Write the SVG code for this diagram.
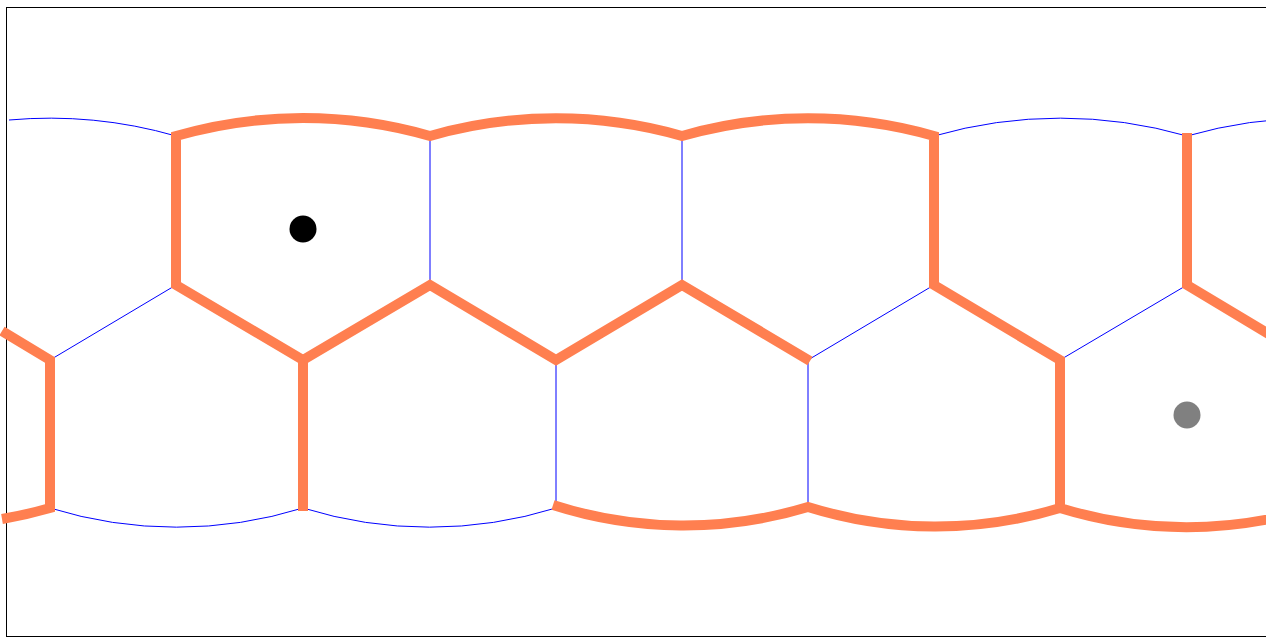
<svg xmlns="http://www.w3.org/2000/svg" width="1266" height="639" viewBox="0 0 1266 639">
  <style>
    .thin { fill: none; stroke: #0000ff; stroke-width: 1; }
    .thick { fill: none; stroke: #ff7f50; stroke-width: 10; stroke-linejoin: miter; stroke-linecap: butt; }
    .frame { fill: #ffffff; stroke: #000000; stroke-width: 1; }
  </style>
  <g id="frame">
    <rect class="frame" x="6.5" y="7.5" width="1300" height="629"/>
  </g>
  <g id="connectors">
    <g id="blue-edges">
      <path class="thin" d="M 9,120 A 457 457 0 0 1 176,136"/>
      <path class="thin" d="M 934,136 A 457 457 0 0 1 1187,136 A 457 457 0 0 1 1440,136"/>
      <path class="thin" d="M 430,136 L 430,285"/>
      <path class="thin" d="M 682,136 L 682,285"/>
      <path class="thin" d="M 50,360 L 176,285"/>
      <path class="thin" d="M 808,360 L 934,285"/>
      <path class="thin" d="M 1060,360 L 1187,285"/>
      <path class="thin" d="M 556,360 L 556,508"/>
      <path class="thin" d="M 808,360 L 808,508"/>
      <path class="thin" d="M 50,508 A 427 427 0 0 0 303,508 A 427 427 0 0 0 556,508"/>
    </g>
    <g id="orange-edges">
      <path class="thick" d="M 2,519 A 427 427 0 0 0 50,508 L 50,360 L 2,331"/>
      <path class="thick" d="M 303,511 L 303,360 L 176,285 L 176,136 A 457 457 0 0 1 430,136 A 457 457 0 0 1 682,136 A 457 457 0 0 1 934,136 L 934,285 L 1060,360 L 1060,508 A 427 427 0 0 0 1313,508"/>
      <path class="thick" d="M 303,360 L 430,285 L 556,360 L 682,285 L 810,361"/>
      <path class="thick" d="M 553,505 A 427 427 0 0 0 808,507 A 427 427 0 0 0 1060,508"/>
      <path class="thick" d="M 1187,133 L 1187,285 L 1272,336"/>
    </g>
  </g>
  <g id="point-black">
    <circle cx="303" cy="229" r="13.5" fill="#000000"/>
  </g>
  <g id="point-gray">
    <circle cx="1187" cy="415" r="13.5" fill="#808080"/>
  </g>
</svg>
